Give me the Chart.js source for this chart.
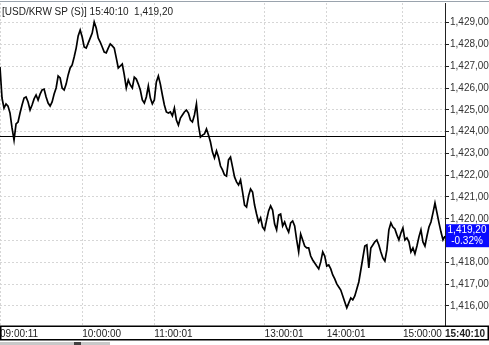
<!DOCTYPE html>
<html lang="en">
<head>
<meta charset="UTF-8">
<title>USD/KRW SP</title>
<script src="https://cdn.jsdelivr.net/npm/chart.js"></script>
<style>
  body { margin: 0; padding: 0; background: #fff; }
  #wrap { width: 489px; height: 345px; }
</style>
</head>
<body>
<div id="wrap"><canvas id="fxChart" width="489" height="345"></canvas></div>
<script>
// --- data ---
const symbolName = "[USD/KRW SP (S)]";
const lastTime = "15:40:10";
const prevClose = 1423.80;

// one sample per ~2px of the original trace, 09:00:11 -> 15:40:10
const prices = [
  1426.96, 1425.54, 1425.08, 1425.27, 1425.17, 1424.85, 1424.17, 1423.61, 1424.35, 1424.44,
  1424.85, 1425.22, 1425.54, 1425.59, 1425.36, 1424.99, 1425.22, 1425.50, 1425.68, 1425.45,
  1425.72, 1425.91, 1425.95, 1425.59, 1425.31, 1425.17, 1425.36, 1425.72, 1426.00, 1426.55,
  1426.46, 1426.00, 1425.91, 1426.18, 1426.60, 1426.92, 1427.06, 1427.42, 1427.83, 1428.39,
  1428.66, 1428.34, 1427.88, 1427.83, 1428.06, 1428.29, 1428.52, 1429.03, 1428.75, 1428.29,
  1428.11, 1427.88, 1427.65, 1427.61, 1427.83, 1428.02, 1427.93, 1427.83, 1427.38, 1426.92,
  1427.01, 1427.10, 1426.60, 1426.00, 1426.37, 1426.14, 1426.00, 1426.50, 1426.41, 1426.18,
  1425.91, 1425.45, 1425.31, 1425.59, 1426.09, 1425.54, 1425.27, 1425.45, 1426.28, 1426.55,
  1426.18, 1425.68, 1425.22, 1424.90, 1424.85, 1424.90, 1424.72, 1425.08, 1424.53, 1424.30,
  1424.62, 1424.76, 1424.90, 1424.99, 1424.85, 1424.53, 1424.44, 1424.76, 1425.27, 1424.30,
  1423.75, 1423.84, 1423.89, 1424.12, 1423.84, 1423.52, 1423.06, 1422.79, 1423.11, 1422.83,
  1422.42, 1422.24, 1422.01, 1421.96, 1422.70, 1422.83, 1422.38, 1421.92, 1421.69, 1421.55,
  1421.78, 1421.23, 1420.63, 1420.54, 1421.05, 1421.37, 1421.23, 1420.63, 1420.22, 1419.85,
  1420.04, 1419.62, 1419.49, 1419.94, 1420.36, 1420.59, 1420.40, 1419.76, 1419.49, 1420.17,
  1420.22, 1419.67, 1419.85, 1419.58, 1419.39, 1419.81, 1419.90, 1419.67, 1419.03, 1418.48,
  1419.30, 1419.03, 1418.75, 1418.66, 1418.66, 1418.29, 1418.11, 1417.97, 1417.83, 1417.70,
  1418.02, 1418.48, 1418.29, 1417.83, 1417.88, 1417.70, 1417.42, 1417.24, 1417.01, 1416.87,
  1416.73, 1416.46, 1416.18, 1415.91, 1416.14, 1416.37, 1416.28, 1416.46, 1416.78, 1417.10,
  1417.65, 1418.20, 1418.75, 1418.80, 1417.74, 1418.66, 1418.80, 1418.94, 1419.03, 1418.80,
  1418.48, 1418.20, 1418.06, 1418.57, 1419.49, 1419.81, 1419.62, 1419.53, 1419.26, 1419.03,
  1419.35, 1419.58, 1419.03, 1419.12, 1418.94, 1418.48, 1418.66, 1418.39, 1418.75, 1419.17,
  1419.49, 1418.94, 1418.75, 1419.21, 1419.62, 1419.85, 1420.27, 1420.72, 1420.27, 1419.81,
  1419.39, 1419.03, 1419.20
];

// which sample each time label sits on
const timeTickIndex = [0, 41, 77, 132, 163, 201, 222];
const timeTickLabels = ["09:00:11", "10:00:00", "11:00:01", "13:00:01", "14:00:01", "15:00:00", "15:40:10"];

const priceTicks = [1416, 1417, 1418, 1419, 1420, 1421, 1422, 1423, 1424, 1425, 1426, 1427, 1428, 1429];

// --- helpers ---
const FONT = "'Liberation Sans', Arial, sans-serif";
const GRID = "#d6d6d6";
const lastPrice = prices[prices.length - 1];

function fmtPrice(v) {
    const s = v.toFixed(2);
    const parts = s.split(".");
    const i = parts[0];
    return i.slice(0, -3) + "," + i.slice(-3) + "," + parts[1];
}

const changePct = (lastPrice - prevClose) / prevClose * 100;

// extra drawing: previous close line, title, price box, time axis frame
const decorations = {
    id: "decorations",
    beforeDatasetsDraw(chart) {
        const { ctx, chartArea, scales } = chart;
        const py = Math.round(scales.y.getPixelForValue(prevClose)) + 0.5;
        ctx.save();
        ctx.strokeStyle = "#000";
        ctx.lineWidth = 1;
        ctx.beginPath();
        ctx.moveTo(chartArea.left, py);
        ctx.lineTo(chartArea.right, py);
        ctx.stroke();
        ctx.restore();
    },
    afterDraw(chart) {
        const { ctx, chartArea, scales, width } = chart;
        ctx.save();

        // top frame line
        ctx.strokeStyle = "#9aa3ad";
        ctx.lineWidth = 1;
        ctx.beginPath();
        ctx.moveTo(0, 1.5);
        ctx.lineTo(width, 1.5);
        ctx.stroke();

        // title
        ctx.fillStyle = "#222";
        ctx.font = "10px " + FONT;
        ctx.textAlign = "left";
        ctx.textBaseline = "middle";
        ctx.fillText(symbolName + " " + lastTime + "  " + fmtPrice(lastPrice), 2, 12);

        // last price box on the axis
        const ly = scales.y.getPixelForValue(lastPrice);
        ctx.fillStyle = "#0a0aff";
        ctx.fillRect(chartArea.right + 1, ly - 12, width - chartArea.right - 1, 23);
        ctx.fillStyle = "#fff";
        ctx.textAlign = "center";
        ctx.fillText(fmtPrice(lastPrice), chartArea.right + 22, ly - 6);
        ctx.fillText(changePct.toFixed(2) + "%", chartArea.right + 22, ly + 5);

        // time axis frame
        ctx.strokeStyle = "#000";
        ctx.lineWidth = 1.5;
        ctx.strokeRect(0.75, chartArea.bottom + 0.25, width - 1.5, 13.5);

        // scrollbar strip at the very bottom
        ctx.fillStyle = "#c8c8c8";
        ctx.fillRect(0, 342, 110, 3);
        ctx.fillStyle = "#404040";
        ctx.fillRect(74, 342, 7, 3);

        ctx.restore();
    }
};

new Chart(document.getElementById("fxChart").getContext("2d"), {
    type: "line",
    data: {
        labels: prices.map((p, i) => i),
        datasets: [{
            data: prices,
            borderColor: "#000",
            borderWidth: 1.7,
            pointRadius: 0,
            tension: 0,
            fill: false
        }]
    },
    options: {
        responsive: false,
        animation: false,
        devicePixelRatio: 1,
        layout: { padding: { top: 3, left: 0, right: 0, bottom: 0 } },
        plugins: {
            legend: { display: false },
            tooltip: { enabled: false }
        },
        scales: {
            x: {
                type: "category",
                position: "bottom",
                offset: false,
                afterBuildTicks(scale) {
                    scale.ticks = timeTickIndex.map(i => ({ value: i }));
                },
                afterFit(scale) {
                    scale.height = 19;
                    scale.paddingLeft = 0;
                    scale.paddingRight = 0;
                },
                grid: { color: GRID, drawTicks: false },
                border: { display: false, dash: [2, 2] },
                ticks: {
                    autoSkip: false,
                    maxRotation: 0,
                    minRotation: 0,
                    align: "start",
                    padding: 2,
                    color: "#222",
                    font: (c) => ({
                        family: FONT,
                        size: 10,
                        weight: c.tick && c.tick.value === prices.length - 1 ? "bold" : "normal"
                    }),
                    callback: (value) => timeTickLabels[timeTickIndex.indexOf(value)]
                }
            },
            y: {
                type: "linear",
                position: "right",
                min: 1415.08,
                max: 1429.90,
                afterBuildTicks(scale) {
                    scale.ticks = priceTicks.map(v => ({ value: v }));
                },
                afterFit(scale) {
                    scale.width = 44;
                    scale.paddingTop = 0;
                    scale.paddingBottom = 0;
                },
                grid: { color: GRID, tickColor: "#222", tickLength: 4, drawTicks: true },
                border: { display: true, color: "#222", width: 1, dash: [2, 2] },
                ticks: {
                    padding: 1,
                    color: "#333",
                    font: { family: FONT, size: 10 },
                    callback: (value) => fmtPrice(value)
                }
            }
        }
    },
    plugins: [decorations]
});
</script>
</body>
</html>
